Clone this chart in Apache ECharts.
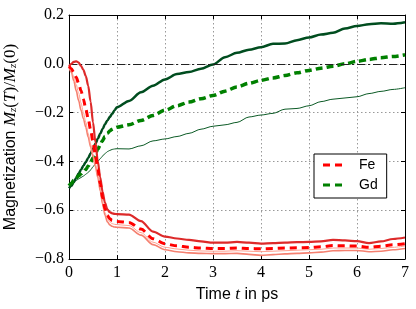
<!DOCTYPE html>
<html><head><meta charset="utf-8">
<script src="https://cdn.jsdelivr.net/npm/echarts@6/dist/echarts.min.js"></script>
<style>html,body{margin:0;padding:0;background:#fff}#c{width:416px;height:309px}</style>
</head><body><div id="c"></div>
<script>
const times = [0,0.05,0.1,0.15,0.2,0.25,0.3,0.35,0.4,0.45,0.5,0.55,0.6,0.65,0.7,0.75,0.8,0.85,0.9,0.95,1.0,
  1.25,1.5,1.75,2.0,2.25,2.5,2.75,3.0,3.25,3.5,3.75,4.0,4.25,4.5,4.75,5.0,5.25,5.5,5.75,6.0,6.25,6.5,6.75,7.0];

const feUpper = [-0.01,0.0,0.008,0.01,0.005,-0.008,-0.025,-0.05,-0.09,-0.155,-0.24,-0.32,-0.4,-0.465,-0.525,-0.57,-0.597,-0.608,-0.613,-0.615,-0.616,
  -0.618,-0.645,-0.688,-0.708,-0.716,-0.722,-0.728,-0.733,-0.733,-0.73,-0.733,-0.737,-0.735,-0.733,-0.731,-0.73,-0.728,-0.722,-0.724,-0.727,-0.735,-0.728,-0.718,-0.712];
const feMean = [-0.01,-0.02,-0.035,-0.055,-0.08,-0.11,-0.145,-0.185,-0.225,-0.27,-0.32,-0.375,-0.43,-0.49,-0.55,-0.595,-0.622,-0.635,-0.642,-0.645,-0.646,
  -0.65,-0.677,-0.717,-0.738,-0.746,-0.752,-0.755,-0.757,-0.757,-0.755,-0.757,-0.758,-0.757,-0.755,-0.754,-0.753,-0.75,-0.745,-0.746,-0.747,-0.752,-0.748,-0.742,-0.737];
const feLight = [-0.012,-0.028,-0.055,-0.085,-0.12,-0.16,-0.2,-0.24,-0.285,-0.33,-0.37,-0.41,-0.455,-0.51,-0.565,-0.61,-0.635,-0.648,-0.655,-0.658,-0.659,
  -0.663,-0.692,-0.731,-0.752,-0.759,-0.764,-0.767,-0.768,-0.768,-0.766,-0.768,-0.77,-0.768,-0.766,-0.764,-0.762,-0.76,-0.755,-0.755,-0.755,-0.76,-0.757,-0.752,-0.747];
const feLower = [-0.015,-0.035,-0.07,-0.11,-0.15,-0.19,-0.225,-0.26,-0.3,-0.34,-0.38,-0.42,-0.465,-0.52,-0.575,-0.62,-0.648,-0.66,-0.666,-0.669,-0.67,
  -0.673,-0.702,-0.741,-0.762,-0.77,-0.775,-0.777,-0.778,-0.778,-0.777,-0.781,-0.785,-0.782,-0.779,-0.777,-0.775,-0.772,-0.766,-0.765,-0.765,-0.77,-0.768,-0.762,-0.757];

const gdUpper = [-0.51,-0.5,-0.485,-0.468,-0.45,-0.434,-0.418,-0.402,-0.386,-0.368,-0.348,-0.328,-0.307,-0.287,-0.267,-0.248,-0.232,-0.218,-0.205,-0.19,-0.178,
  -0.152,-0.117,-0.09,-0.064,-0.042,-0.034,-0.02,-0.003,0.027,0.045,0.058,0.068,0.082,0.083,0.097,0.108,0.12,0.127,0.145,0.155,0.162,0.166,0.164,0.17];
const gdMean = [-0.5,-0.49,-0.478,-0.468,-0.459,-0.451,-0.443,-0.433,-0.419,-0.403,-0.386,-0.368,-0.35,-0.332,-0.314,-0.298,-0.285,-0.275,-0.268,-0.263,-0.26,
  -0.25,-0.232,-0.212,-0.19,-0.172,-0.157,-0.143,-0.13,-0.112,-0.095,-0.08,-0.068,-0.058,-0.048,-0.037,-0.027,-0.018,-0.01,0.0,0.01,0.018,0.025,0.03,0.037];
const gdLower = [-0.49,-0.487,-0.483,-0.478,-0.472,-0.466,-0.46,-0.453,-0.445,-0.435,-0.422,-0.41,-0.4,-0.389,-0.378,-0.368,-0.36,-0.355,-0.351,-0.349,-0.348,
  -0.349,-0.336,-0.316,-0.308,-0.298,-0.285,-0.268,-0.256,-0.25,-0.24,-0.218,-0.21,-0.203,-0.186,-0.183,-0.172,-0.155,-0.145,-0.14,-0.135,-0.122,-0.113,-0.105,-0.098];

const legendNames = ['Fe', 'Gd'];

const chart = echarts.init(document.getElementById('c'), null, {renderer: 'canvas'});
function pairs(v) { return times.map((t, i) => [t, v[i]]); }
function line(name, vals, color, width, type, z) {
  return {
    name: name, type: 'line', data: pairs(vals), color: color, showSymbol: false, symbol: 'none',
    smooth: 0.3, smoothMonotone: 'x', z: z, silent: true, animation: false,
    lineStyle: {color: color, width: width, type: type}
  };
}
const serif = 'Liberation Serif';
const sans = 'Liberation Sans';
const fmtY = v => (v < -1e-9 ? '\u2212' : '') + Math.abs(v).toFixed(1);

chart.setOption({
  animation: false,
  grid: {left: 69, right: 11, top: 15, bottom: 50, containLabel: false, outerBoundsMode: 'none'},
  legend: {
    data: legendNames, orient: 'vertical', left: 314, top: 154,
    icon: 'path://M0,0H7V3H0ZM12,0H19V3H12Z', itemWidth: 19, itemHeight: 4, itemGap: 6,
    padding: [4, 9, 6, 9], borderColor: '#000', borderWidth: 1, borderRadius: 0, backgroundColor: '#fff',
    textStyle: {fontFamily: sans, fontSize: 14, color: '#000', padding: [0, 0, 0, 12]}
  },
  xAxis: [{
    type: 'value', min: 0, max: 7, interval: 1,
    name: '{s|Time }{m|t}{s| in ps}', nameLocation: 'middle', nameGap: 24,
    nameTextStyle: {rich: {
      s: {fontFamily: sans, fontSize: 16, color: '#000'},
      m: {fontFamily: serif, fontStyle: 'italic', fontSize: 17, color: '#000'}
    }},
    axisLine: {show: true, onZero: false, lineStyle: {color: '#000', width: 1}},
    axisTick: {show: true, inside: true, length: 4, lineStyle: {color: '#000'}},
    axisLabel: {fontFamily: serif, fontSize: 16, color: '#000', margin: 6},
    splitLine: {show: true, lineStyle: {color: '#999', type: [1.5, 2.5], width: 1}}
  }, {
    type: 'value', min: 0, max: 7, interval: 1, position: 'top',
    axisLine: {show: true, onZero: false, lineStyle: {color: '#000', width: 1}},
    axisTick: {show: true, inside: true, length: 4, lineStyle: {color: '#000'}},
    axisLabel: {show: false}, splitLine: {show: false}
  }],
  yAxis: [{
    type: 'value', min: -0.8, max: 0.2, interval: 0.2,
    name: '{s|Magnetization }{m|M}{sub|z}{r|(}{m|T}{r|)/}{m|M}{sub|z}{r|(0)}',
    nameLocation: 'middle', nameRotate: 90, nameGap: 50,
    nameTextStyle: {rich: {
      s: {fontFamily: sans, fontSize: 16, color: '#000'},
      m: {fontFamily: serif, fontStyle: 'italic', fontSize: 17, color: '#000'},
      r: {fontFamily: serif, fontSize: 17, color: '#000'},
      sub: {fontFamily: serif, fontStyle: 'italic', fontSize: 11, color: '#000', verticalAlign: 'bottom', padding: [6, 0, 0, 0]}
    }},
    axisLine: {show: true, onZero: false, lineStyle: {color: '#000', width: 1}},
    axisTick: {show: true, inside: true, length: 4, lineStyle: {color: '#000'}},
    axisLabel: {fontFamily: serif, fontSize: 16, color: '#000', margin: 5, formatter: fmtY},
    splitLine: {show: true, lineStyle: {color: '#999', type: [1.5, 2.5], width: 1}}
  }, {
    type: 'value', min: -0.8, max: 0.2, interval: 0.2, position: 'right',
    axisLine: {show: true, onZero: false, lineStyle: {color: '#000', width: 1}},
    axisTick: {show: true, inside: true, length: 4, lineStyle: {color: '#000'}},
    axisLabel: {show: false}, splitLine: {show: false}
  }],
  series: [
    {
      name: 'zero', type: 'line', data: [], silent: true, z: 1,
      markLine: {symbol: 'none', silent: true, label: {show: false}, animation: false,
        lineStyle: {color: '#222', width: 1.2, type: [8, 3, 2, 3]}, data: [{yAxis: 0}]}
    },
    line('Gd thin', gdLower, '#0b5a25', 1, 'solid', 3),
    line('Gd', gdMean, '#008000', 3.5, [7, 4], 4),
    line('Gd thick', gdUpper, '#004d1f', 2.5, 'solid', 3),
    line('Fe low', feLower, '#f58070', 1.6, 'solid', 5),
    line('Fe light', feLight, '#ffa090', 1, 'solid', 5),
    line('Fe', feMean, '#ff0000', 3, [7, 5], 6),
    line('Fe high', feUpper, '#dd2a2a', 2.2, 'solid', 5)
  ]
});
</script>
</body></html>
